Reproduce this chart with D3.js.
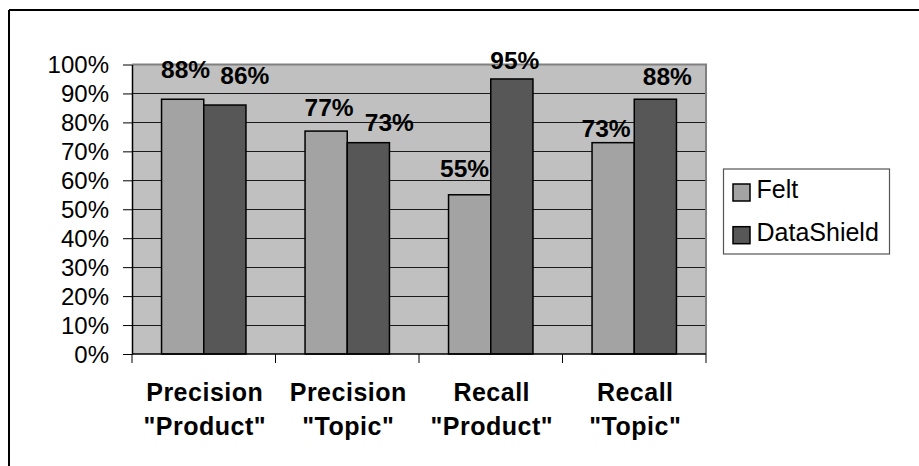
<!DOCTYPE html>
<html>
<head>
<meta charset="utf-8">
<script src="https://cdn.jsdelivr.net/npm/d3@7"></script>
<style>
  html, body { margin: 0; padding: 0; background: #fff; }
  svg { display: block; }
  text { font-family: "Liberation Sans", Arial, sans-serif; fill: #000; }
</style>
</head>
<body>
<svg id="chart" width="919" height="466"></svg>
<script>
// ---- data ----
const categories = ['Precision "Product"', 'Precision "Topic"', 'Recall "Product"', 'Recall "Topic"'];
const seriesNames = ["Felt", "DataShield"];
const felt = [0.88, 0.77, 0.55, 0.73];
const dataShield = [0.86, 0.73, 0.95, 0.88];
const yTicks = [0, 0.1, 0.2, 0.3, 0.4, 0.5, 0.6, 0.7, 0.8, 0.9, 1.0];

// ---- layout / style ----
const colors = { Felt: "#a3a3a3", DataShield: "#575757" };
const plot = { left: 132, right: 706, top: 64.5, bottom: 354 };
// manual nudges of the data labels (dx, dy from bar top centre), as in the original
const labelNudge = {
  Felt:       [[3, -21], [3, -15], [-5, -18], [-7, -6]],
  DataShield: [[20, -21], [21, -12], [3, -10], [12, -14]]
};

const svg = d3.select("#chart");

// outer chart border (only top and left visible)
svg.append("line").attr("x1", 9).attr("x2", 919).attr("y1", 10).attr("y2", 10)
  .attr("stroke", "#000").attr("stroke-width", 2);
svg.append("line").attr("x1", 9).attr("x2", 9).attr("y1", 10).attr("y2", 466)
  .attr("stroke", "#000").attr("stroke-width", 2);

const x = d3.scaleBand().domain(categories).range([plot.left, plot.right]).paddingInner(0).paddingOuter(0);
const xs = d3.scaleBand().domain(seriesNames).range([0, x.bandwidth()]).paddingInner(0).paddingOuter(0.7);
const y = d3.scaleLinear().domain([0, 1]).range([plot.bottom, plot.top]);

// plot background
svg.append("rect")
  .attr("x", plot.left).attr("y", plot.top)
  .attr("width", plot.right - plot.left).attr("height", plot.bottom - plot.top)
  .attr("fill", "#c0c0c0");

// gridlines
svg.append("g").selectAll("line").data(yTicks.filter(d => d > 0 && d < 1)).join("line")
  .attr("x1", plot.left).attr("x2", plot.right)
  .attr("y1", d => y(d)).attr("y2", d => y(d))
  .attr("stroke", "#1a1a1a").attr("stroke-width", 1).attr("shape-rendering", "crispEdges");

// plot border top/right (gray)
svg.append("path")
  .attr("d", `M${plot.left},${plot.top}H${plot.right}V${plot.bottom}`)
  .attr("fill", "none").attr("stroke", "#808080").attr("stroke-width", 2);

// bars
const rows = categories.map((c, i) => ({ c, i, vals: [
  { s: "Felt", v: felt[i] }, { s: "DataShield", v: dataShield[i] }
]}));
const groups = svg.append("g").selectAll("g").data(rows).join("g")
  .attr("transform", d => `translate(${x(d.c)},0)`);
groups.selectAll("rect").data(d => d.vals).join("rect")
  .attr("x", d => xs(d.s))
  .attr("y", d => y(d.v))
  .attr("width", xs.bandwidth())
  .attr("height", d => y(0) - y(d.v))
  .attr("fill", d => colors[d.s])
  .attr("stroke", "#000").attr("stroke-width", 1.5);

// y axis
const yAxis = d3.axisLeft(y).tickValues(yTicks).tickFormat(d3.format(".0%"))
  .tickSizeInner(9).tickSizeOuter(0).tickPadding(14);
const gy = svg.append("g").attr("transform", `translate(${plot.left},0)`).call(yAxis);
gy.select(".domain").attr("stroke", "#000").attr("stroke-width", 1.5);
gy.selectAll(".tick line").attr("stroke", "#000");
gy.selectAll(".tick text").attr("font-size", 24).attr("font-family", '"Liberation Sans", Arial, sans-serif')
  .attr("fill", "#000").attr("dy", "0.35em");

// x axis line + boundary ticks
svg.append("line").attr("x1", plot.left).attr("x2", plot.right)
  .attr("y1", plot.bottom).attr("y2", plot.bottom)
  .attr("stroke", "#000").attr("stroke-width", 1.5);
const bounds = categories.map(c => x(c)).concat([x(categories[categories.length - 1]) + x.bandwidth()]);
svg.append("g").selectAll("line").data(bounds).join("line")
  .attr("x1", d => d).attr("x2", d => d)
  .attr("y1", plot.bottom).attr("y2", plot.bottom + 9)
  .attr("stroke", "#000").attr("stroke-width", 1);

// category labels (two lines)
const catText = svg.append("g").selectAll("text").data(categories).join("text")
  .attr("x", d => x(d) + x.bandwidth() / 2)
  .attr("text-anchor", "middle")
  .attr("font-size", 25).attr("font-weight", "bold")
  .attr("letter-spacing", "0.5px");
catText.each(function(d) {
  const k = d.indexOf(" ");
  const t = d3.select(this);
  t.append("tspan").attr("x", x(d) + x.bandwidth() / 2 + 1).attr("y", 401).text(d.slice(0, k));
  t.append("tspan").attr("x", x(d) + x.bandwidth() / 2 + 1).attr("y", 435).text(d.slice(k + 1));
});

// data labels
groups.selectAll("text.val").data(d => d.vals.map(v => ({ ...v, i: d.i }))).join("text")
  .attr("class", "val")
  .attr("x", d => xs(d.s) + xs.bandwidth() / 2 + labelNudge[d.s][d.i][0])
  .attr("y", d => y(d.v) + labelNudge[d.s][d.i][1])
  .attr("text-anchor", "middle")
  .attr("font-size", 24.5).attr("font-weight", "bold")
  .text(d => d3.format(".0%")(d.v));

// legend
const lg = svg.append("g");
lg.append("rect").attr("x", 723.5).attr("y", 169).attr("width", 166).attr("height", 85)
  .attr("fill", "#fff").attr("stroke", "#555").attr("stroke-width", 1.2);
const items = lg.selectAll("g").data(seriesNames).join("g")
  .attr("transform", (d, i) => `translate(733,${184 + i * 42.7})`);
items.append("rect").attr("width", 17).attr("height", 17)
  .attr("fill", d => colors[d]).attr("stroke", "#000").attr("stroke-width", 1.5);
items.append("text").attr("x", 23.5).attr("y", 14).attr("font-size", 25).text(d => d);
</script>
</body>
</html>
